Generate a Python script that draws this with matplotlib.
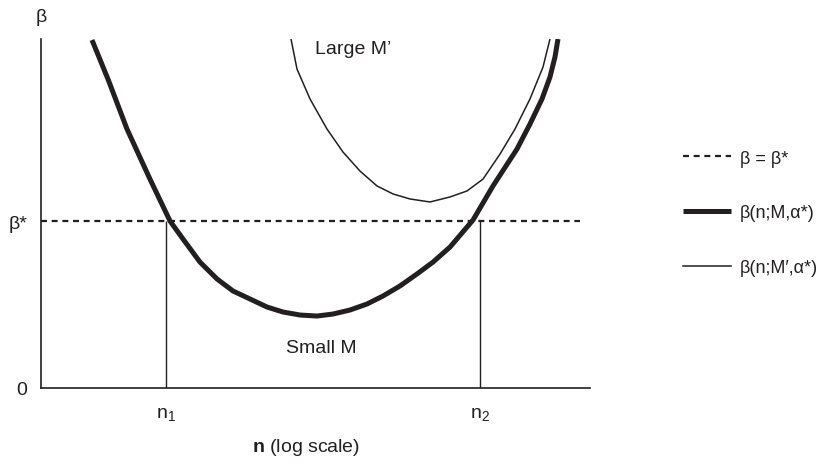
import matplotlib
matplotlib.use("Agg")
import matplotlib.pyplot as plt

plt.rcParams['font.family'] = ['Liberation Sans', 'DejaVu Sans']
plt.rcParams['mathtext.fontset'] = 'custom'
plt.rcParams['mathtext.rm'] = 'Liberation Sans'
plt.rcParams['mathtext.bf'] = 'Liberation Sans:bold'
plt.rcParams['mathtext.it'] = 'Liberation Sans'

INK = "#231f20"

# log n (arbitrary units) and beta (beta* = 1)
small_m_x = [0.929, 1.220, 1.566, 1.985, 2.350, 2.587, 2.896, 3.206, 3.497,
             3.807, 4.117, 4.408, 4.718, 5.027, 5.319, 5.628, 5.938, 6.230,
             6.539, 6.849, 7.140, 7.450, 7.869, 8.233, 8.670, 8.907, 9.126,
             9.271, 9.362, 9.417]
small_m_y = [2.084, 1.850, 1.551, 1.251, 1.000, 0.892, 0.754, 0.653, 0.581,
             0.533, 0.485, 0.455, 0.437, 0.431, 0.443, 0.467, 0.503, 0.551,
             0.611, 0.683, 0.754, 0.844, 1.006, 1.210, 1.431, 1.581, 1.731,
             1.862, 1.982, 2.090]

large_m_x = [4.554, 4.663, 4.900, 5.209, 5.501, 5.811, 6.120, 6.412, 6.721,
             7.086, 7.450, 7.760, 8.051, 8.361, 8.634, 8.907, 9.144, 9.271]
large_m_y = [2.090, 1.910, 1.731, 1.551, 1.413, 1.299, 1.210, 1.162, 1.132,
             1.114, 1.144, 1.180, 1.251, 1.401, 1.551, 1.731, 1.922, 2.090]

beta_star = 1.0
n1 = 2.28
n2 = 8.0
dash_x = [0.0, 9.82]

fig = plt.figure(figsize=(8.31, 4.64), dpi=100)
ax = fig.add_axes([41 / 831, 1 - 389 / 464, 549 / 831, 349 / 464])

ax.plot(dash_x, [beta_star, beta_star], color=INK, lw=1.6,
        linestyle=(0, (2.7, 2.1)), label="β = β*")
ax.plot(small_m_x, small_m_y, color=INK, lw=3.6, solid_capstyle="butt",
        solid_joinstyle="round", label="β(n;M,α*)")
ax.plot(large_m_x, large_m_y, color=INK, lw=1.1, solid_joinstyle="round",
        label="β(n;M′,α*)")
ax.vlines([n1, n2], 0, beta_star, color=INK, lw=1.0)

ax.text(5.683, 2.036, "Large M’", fontsize=14, color=INK, ha="center", va="center")
ax.text(5.10, 0.240, "Small M", fontsize=14, color=INK, ha="center", va="center")

ax.set_xlim(0, 10)
ax.set_ylim(0, 2.09)
ax.set_xticks([n1, n2], ["n$_1$", "n$_2$"])
ax.set_yticks([0, beta_star], ["0", "β*"])
ax.tick_params(length=0, labelsize=14, colors=INK)
ax.tick_params(axis="x", pad=12)
ax.tick_params(axis="y", pad=10)

for side in ["top", "right"]:
    ax.spines[side].set_visible(False)
for side in ["left", "bottom"]:
    ax.spines[side].set_color(INK)
    ax.spines[side].set_linewidth(1.2)

fig.text(41 / 831, 1 - 17 / 464, "β", fontsize=14, color=INK, ha="center", va="center")
fig.text(306 / 831, 1 - 448 / 464, r"$\mathbf{n}$ (log scale)", fontsize=14,
         color=INK, ha="center", va="center")

ax.legend(loc="center left", bbox_to_anchor=(683 / 831, 1 - 214 / 464),
          bbox_transform=fig.transFigure, frameon=False, fontsize=13,
          handlelength=2.65, handletextpad=0.5, labelspacing=2.1,
          borderpad=0, borderaxespad=0, labelcolor=INK)

fig.savefig("out.png", dpi=100)
